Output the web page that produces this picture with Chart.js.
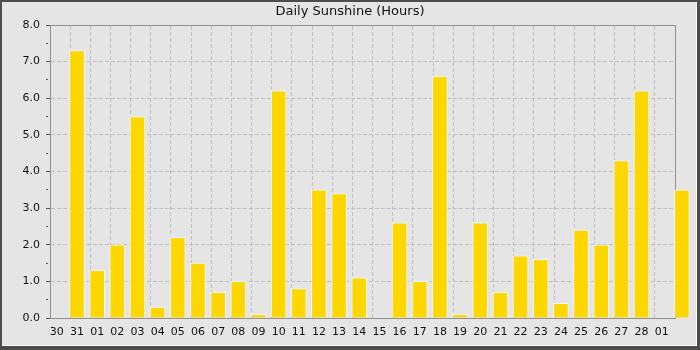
<!DOCTYPE html>
<html><head><meta charset="utf-8">
<script src="https://cdn.jsdelivr.net/npm/chart.js@4/dist/chart.umd.min.js"></script>
<style>
html,body{margin:0;padding:0;background:#e5e5e5;}
#wrap{position:relative;width:700px;height:350px;overflow:hidden;}
#frame{position:absolute;left:0;top:0;width:700px;height:350px;box-sizing:border-box;border-style:solid;border-color:#4d4d4d;border-width:2px 3px 4px 2px;box-shadow:inset -1px -1px 0 #ffffff;pointer-events:none;}
canvas{display:block;}
</style></head><body>
<div id="wrap"><canvas id="c" width="700" height="350"></canvas><div id="frame"></div></div>
<script>
// Day labels along the x axis (one per bar slot)
const dayLabels = ['30','31','01','02','03','04','05','06','07','08','09','10','11','12','13','14','15','16','17','18','19','20','21','22','23','24','25','26','27','28','01'];
// Sunshine hours per slot (the last value sits one slot past the labelled range, as in the original)
const sunshineHours = [0,7.3,1.3,2.0,5.5,0.3,2.2,1.5,0.7,1.0,0.1,6.2,0.8,3.5,3.4,1.1,0,2.6,1.0,6.6,0.1,2.6,0.7,1.7,1.6,0.4,2.4,2.0,4.3,6.2,0,3.5];
// Y axis range / steps
const yMin = 0, yMax = 8, yStep = 0.5;

const FONT = 'DejaVu Sans';
const barData = sunshineHours.map((v, i) => ({x: i, y: v}));

new Chart(document.getElementById('c'), {
  type: 'bar',
  data: {
    datasets: [{
      data: barData,
      xAxisID: 'x',
      yAxisID: 'y',
      backgroundColor: '#ffd700',
      borderColor: '#eef6ff',
      borderWidth: 1,
      barThickness: 15,
      clip: false
    }]
  },
  options: {
    responsive: false,
    animation: false,
    devicePixelRatio: 1,
    layout: {padding: 0},
    plugins: {
      legend: {display: false},
      tooltip: {enabled: false},
      title: {
        display: true,
        text: 'Daily Sunshine (Hours)',
        color: '#111',
        font: {family: FONT, size: 13, weight: 'normal'},
        padding: {top: 4, bottom: 0}
      }
    },
    scales: {
      x: {
        type: 'linear', position: 'bottom', offset: false,
        min: -0.34, max: dayLabels.length - 0.34,
        afterBuildTicks: s => { s.ticks = dayLabels.map((_, i) => ({value: i})); },
        afterFit: s => { s.height = 32; },
        grid: {display: false, drawTicks: false, offset: false},
        border: {display: true, color: '#8f8f8f'},
        ticks: {
          callback: v => (dayLabels[v] !== undefined ? dayLabels[v] : ''),
          padding: 8, color: '#111', autoSkip: false, maxRotation: 0,
          font: {family: FONT, size: 11}
        }
      },
      xGrid: {
        type: 'linear', position: 'top', offset: false,
        min: 0, max: dayLabels.length,
        afterBuildTicks: s => { s.ticks = sunshineHours.map((_, i) => ({value: i})); },
        afterFit: s => { s.height = 5.4; },
        grid: {color: '#c0c0c0', drawTicks: false, offset: false},
        border: {display: true, color: '#8f8f8f', dash: [4, 2]},
        ticks: {display: false}
      },
      y: {
        type: 'linear', position: 'left',
        min: yMin, max: yMax,
        ticks: {
          stepSize: yStep,
          callback: v => (v % 1 === 0 ? v.toFixed(1) : ''),
          padding: 6, color: '#111',
          font: {family: FONT, size: 11}
        },
        afterFit: s => { s.width = 50; },
        grid: {
          color: c => (c.tick && c.tick.value % 1 === 0 ? '#c0c0c0' : 'rgba(0,0,0,0)'),
          tickColor: '#555',
          tickLength: 4,
          tickBorderDash: c => (c.tick && c.tick.value % 1 === 0 ? [] : [2, 10])
        },
        border: {display: true, color: '#8f8f8f', dash: [4, 2]}
      },
      y2: {
        type: 'linear', position: 'right',
        min: yMin, max: yMax,
        afterFit: s => { s.width = 25; },
        grid: {display: false, drawTicks: false},
        border: {display: true, color: '#8f8f8f'},
        ticks: {display: false}
      }
    }
  }
});
</script>
</body></html>
